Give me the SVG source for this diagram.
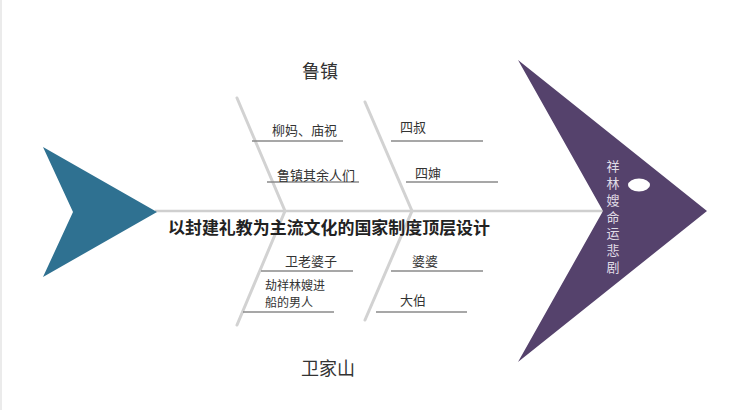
<svg xmlns="http://www.w3.org/2000/svg" width="736" height="410" viewBox="0 0 736 410">
<style>
.bone{stroke:#d2d2d2;stroke-width:3;fill:none;stroke-linecap:round}
.spine{stroke:#cfcfcf;stroke-width:2.5;fill:none}
.sub{stroke:#8a8a8a;stroke-width:1.5}
.lbl{font-family:"Noto Sans CJK SC","Noto Sans",sans-serif;font-size:13px;fill:#333}
.lbl2{font-family:"Noto Sans CJK SC","Noto Sans",sans-serif;font-size:12px;fill:#333}
.head{font-family:"Noto Sans CJK SC","Noto Sans",sans-serif;font-size:18px;fill:#333;text-anchor:middle}
.main{font-family:"Noto Sans CJK SC","Noto Sans",sans-serif;font-size:16.5px;font-weight:bold;fill:#222}
.vt{font-family:"Noto Sans CJK SC","Noto Sans",sans-serif;font-size:13px;fill:#e0dce6;writing-mode:vertical-rl;letter-spacing:3.7px}
</style>
<rect x="0" y="0" width="736" height="410" fill="#ffffff"/>
<line x1="1" y1="0" x2="1" y2="410" stroke="#e4e4e4" stroke-width="1.5"/>
<g id="connectors">
<line class="spine" x1="155" y1="211" x2="605" y2="211"/>
<polyline class="bone" points="237,98 285,211 237,325"/>
<polyline class="bone" points="365,102 412,211 365,320"/>
<line class="sub" x1="252" y1="141" x2="343" y2="141"/>
<line class="sub" x1="267" y1="182" x2="359" y2="182"/>
<line class="sub" x1="391" y1="141" x2="483" y2="141"/>
<line class="sub" x1="406" y1="182" x2="498" y2="182"/>
<line class="sub" x1="261" y1="271" x2="353" y2="271"/>
<line class="sub" x1="243" y1="312" x2="334" y2="312"/>
<line class="sub" x1="391" y1="271" x2="483" y2="271"/>
<line class="sub" x1="376" y1="312" x2="467" y2="312"/>
</g>
<g id="tail">
<polygon points="43,147 157,212 43,277 73,212" fill="#2f7191"/>
</g>
<g id="head">
<polygon points="518,60 707,211 518,362 603,211" fill="#55426c"/>
<ellipse cx="639" cy="185" rx="11" ry="6.5" fill="#ffffff"/>
<text class="vt" x="613" y="160">祥林嫂命运悲剧</text>
</g>
<g id="title-main">
<text class="main" x="168" y="234" textLength="322" lengthAdjust="spacingAndGlyphs">以封建礼教为主流文化的国家制度顶层设计</text>
</g>
<g id="group-luzhen">
<text class="head" x="320" y="78">鲁镇</text>
</g>
<g id="group-weijiashan">
<text class="head" x="328" y="375">卫家山</text>
</g>
<g id="n-liuma"><text class="lbl" x="272" y="135">柳妈、庙祝</text></g>
<g id="n-luzhenqiyu"><text class="lbl" x="277" y="180">鲁镇其余人们</text></g>
<g id="n-sishu"><text class="lbl" x="400" y="132">四叔</text></g>
<g id="n-sishen"><text class="lbl" x="415" y="178">四婶</text></g>
<g id="n-weilaopo"><text class="lbl" x="285" y="266">卫老婆子</text></g>
<g id="n-jie"><text class="lbl2" x="265" y="290">劫祥林嫂进</text><text class="lbl2" x="265" y="307">船的男人</text></g>
<g id="n-popo"><text class="lbl" x="412" y="266">婆婆</text></g>
<g id="n-dabo"><text class="lbl" x="400" y="305">大伯</text></g>
</svg>
